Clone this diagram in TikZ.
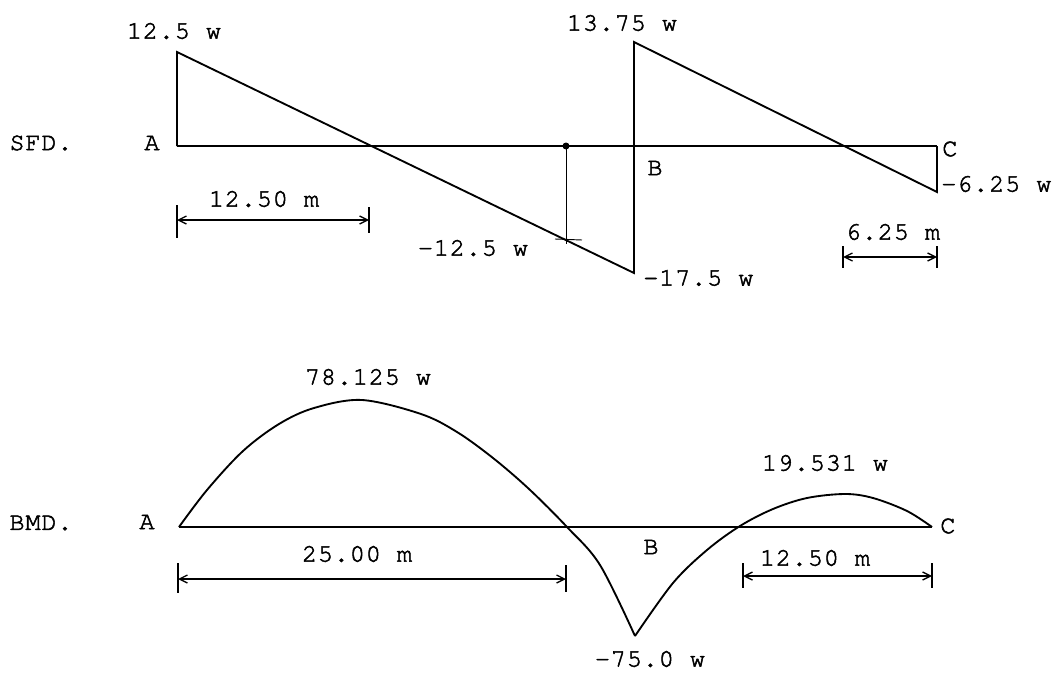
\documentclass[tikz,border=0pt]{standalone}
\usepackage{fontspec}
\usetikzlibrary{arrows.meta}
\newfontfamily\twfam{texgyrecursor-regular.otf}[LetterSpace=3,FakeBold=2]
\newcommand\twfont{\fontsize{19}{21}\twfam\selectfont}
\tikzset{
  lbl/.style={font=\twfont, inner sep=0pt, anchor=center},
  main/.style={line width=1.4pt, line join=miter},
  thin/.style={line width=0.7pt},
  dimline/.style={line width=1pt, {Straight Barb[length=6pt,width=6pt]}-{Straight Barb[length=6pt,width=6pt]}},
  tickl/.style={line width=1.1pt},
}
\begin{document}
\begin{tikzpicture}[x=0.75pt,y=-0.75pt]
\useasboundingbox (0,0) rectangle (1064,674);
% ---------------- SFD ----------------
\coordinate (sA) at (177,146);
\coordinate (sAtop) at (177,52);
\coordinate (sBtop) at (634,42);
\coordinate (sBbot) at (634,273);
\coordinate (sB) at (634,146);
\coordinate (sC) at (937,146);
\coordinate (sCbot) at (937,192);
\coordinate (sdot) at (566,146);
\coordinate (sdotlow) at (566,244);
\coordinate (stick1) at (555,239);
\coordinate (stick2) at (582,240);

\draw[main] (sA) -- (sC);
\draw[main] (sA) -- (sAtop) -- (sBbot) -- (sBtop) -- (sCbot) -- (sC);
\draw[thin] (sdot) -- (sdotlow);
\draw[thin] (stick1) -- (stick2);
\fill (sdot) circle (3.5);

\node[lbl] (sfd) at (41,143) {SFD.};
\node[lbl] (lA1) at (152,143) {A};
\node[lbl] (lB1) at (655,168) {B};
\node[lbl, anchor=west] (lC1) at (942,149) {C};
\node[lbl] (v125) at (174,31) {12.5 w};
\node[lbl] (v1375) at (622,23) {13.75 w};
\node[lbl] (vm125) at (473,248) {-12.5 w};
\node[lbl, anchor=west] (vm175) at (643,278) {-17.5 w};
\node[lbl, anchor=west] (vm625) at (941,184) {-6.25 w};

% dimension 12.50 m
\coordinate (d1a) at (177,220);
\coordinate (d1b) at (369,220);
\draw[tickl] (177,205) -- (177,238);
\draw[tickl] (369,207) -- (369,233);
\draw[dimline] (d1a) -- (d1b);
\node[lbl] (t1) at (264,199) {12.50 m};
% dimension 6.25 m
\coordinate (d2a) at (843,257);
\coordinate (d2b) at (937,257);
\draw[tickl] (843,246) -- (843,268);
\draw[tickl] (937,246) -- (937,268);
\draw[dimline] (d2a) -- (d2b);
\node[lbl] (t2) at (893,232) {6.25 m};

% ---------------- BMD ----------------
\coordinate (bA) at (179,527);
\coordinate (bC) at (932,527);
\draw[main] (bA) -- (bC);
\draw[main] plot[smooth, tension=0.55] coordinates {
 (179,527) (207,490) (243,451) (279,424) (314,408) (362,400) (421,414)
 (457,432) (493,458) (529,489) (567,527) (600,565) (635,636)};
\draw[main] plot[smooth, tension=0.55] coordinates {
 (635,636) (673,583) (707,550) (740,526) (773,509) (807,498) (845,494)
 (873,498) (907,511) (932,527)};

\node[lbl] (bmd) at (41,523) {BMD.};
\node[lbl] (lA2) at (147,522) {A};
\node[lbl] (lB2) at (651,547) {B};
\node[lbl, anchor=west] (lC2) at (940,526) {C};
\node[lbl] (v78) at (368,377) {78.125 w};
\node[lbl] (v19) at (825,463) {19.531 w};
\node[lbl] (vm75) at (650,659) {-75.0 w};

% dimension 25.00 m
\coordinate (d3a) at (178,579);
\coordinate (d3b) at (566,579);
\draw[tickl] (178,563) -- (178,593);
\draw[tickl] (566,565) -- (566,592);
\draw[dimline] (d3a) -- (d3b);
\node[lbl] (t3) at (357,554) {25.00 m};
% dimension 12.50 m
\coordinate (d4a) at (743,576);
\coordinate (d4b) at (932,576);
\draw[tickl] (743,563) -- (743,588);
\draw[tickl] (932,563) -- (932,588);
\draw[dimline] (d4a) -- (d4b);
\node[lbl] (t4) at (815,558) {12.50 m};
\end{tikzpicture}
\end{document}
